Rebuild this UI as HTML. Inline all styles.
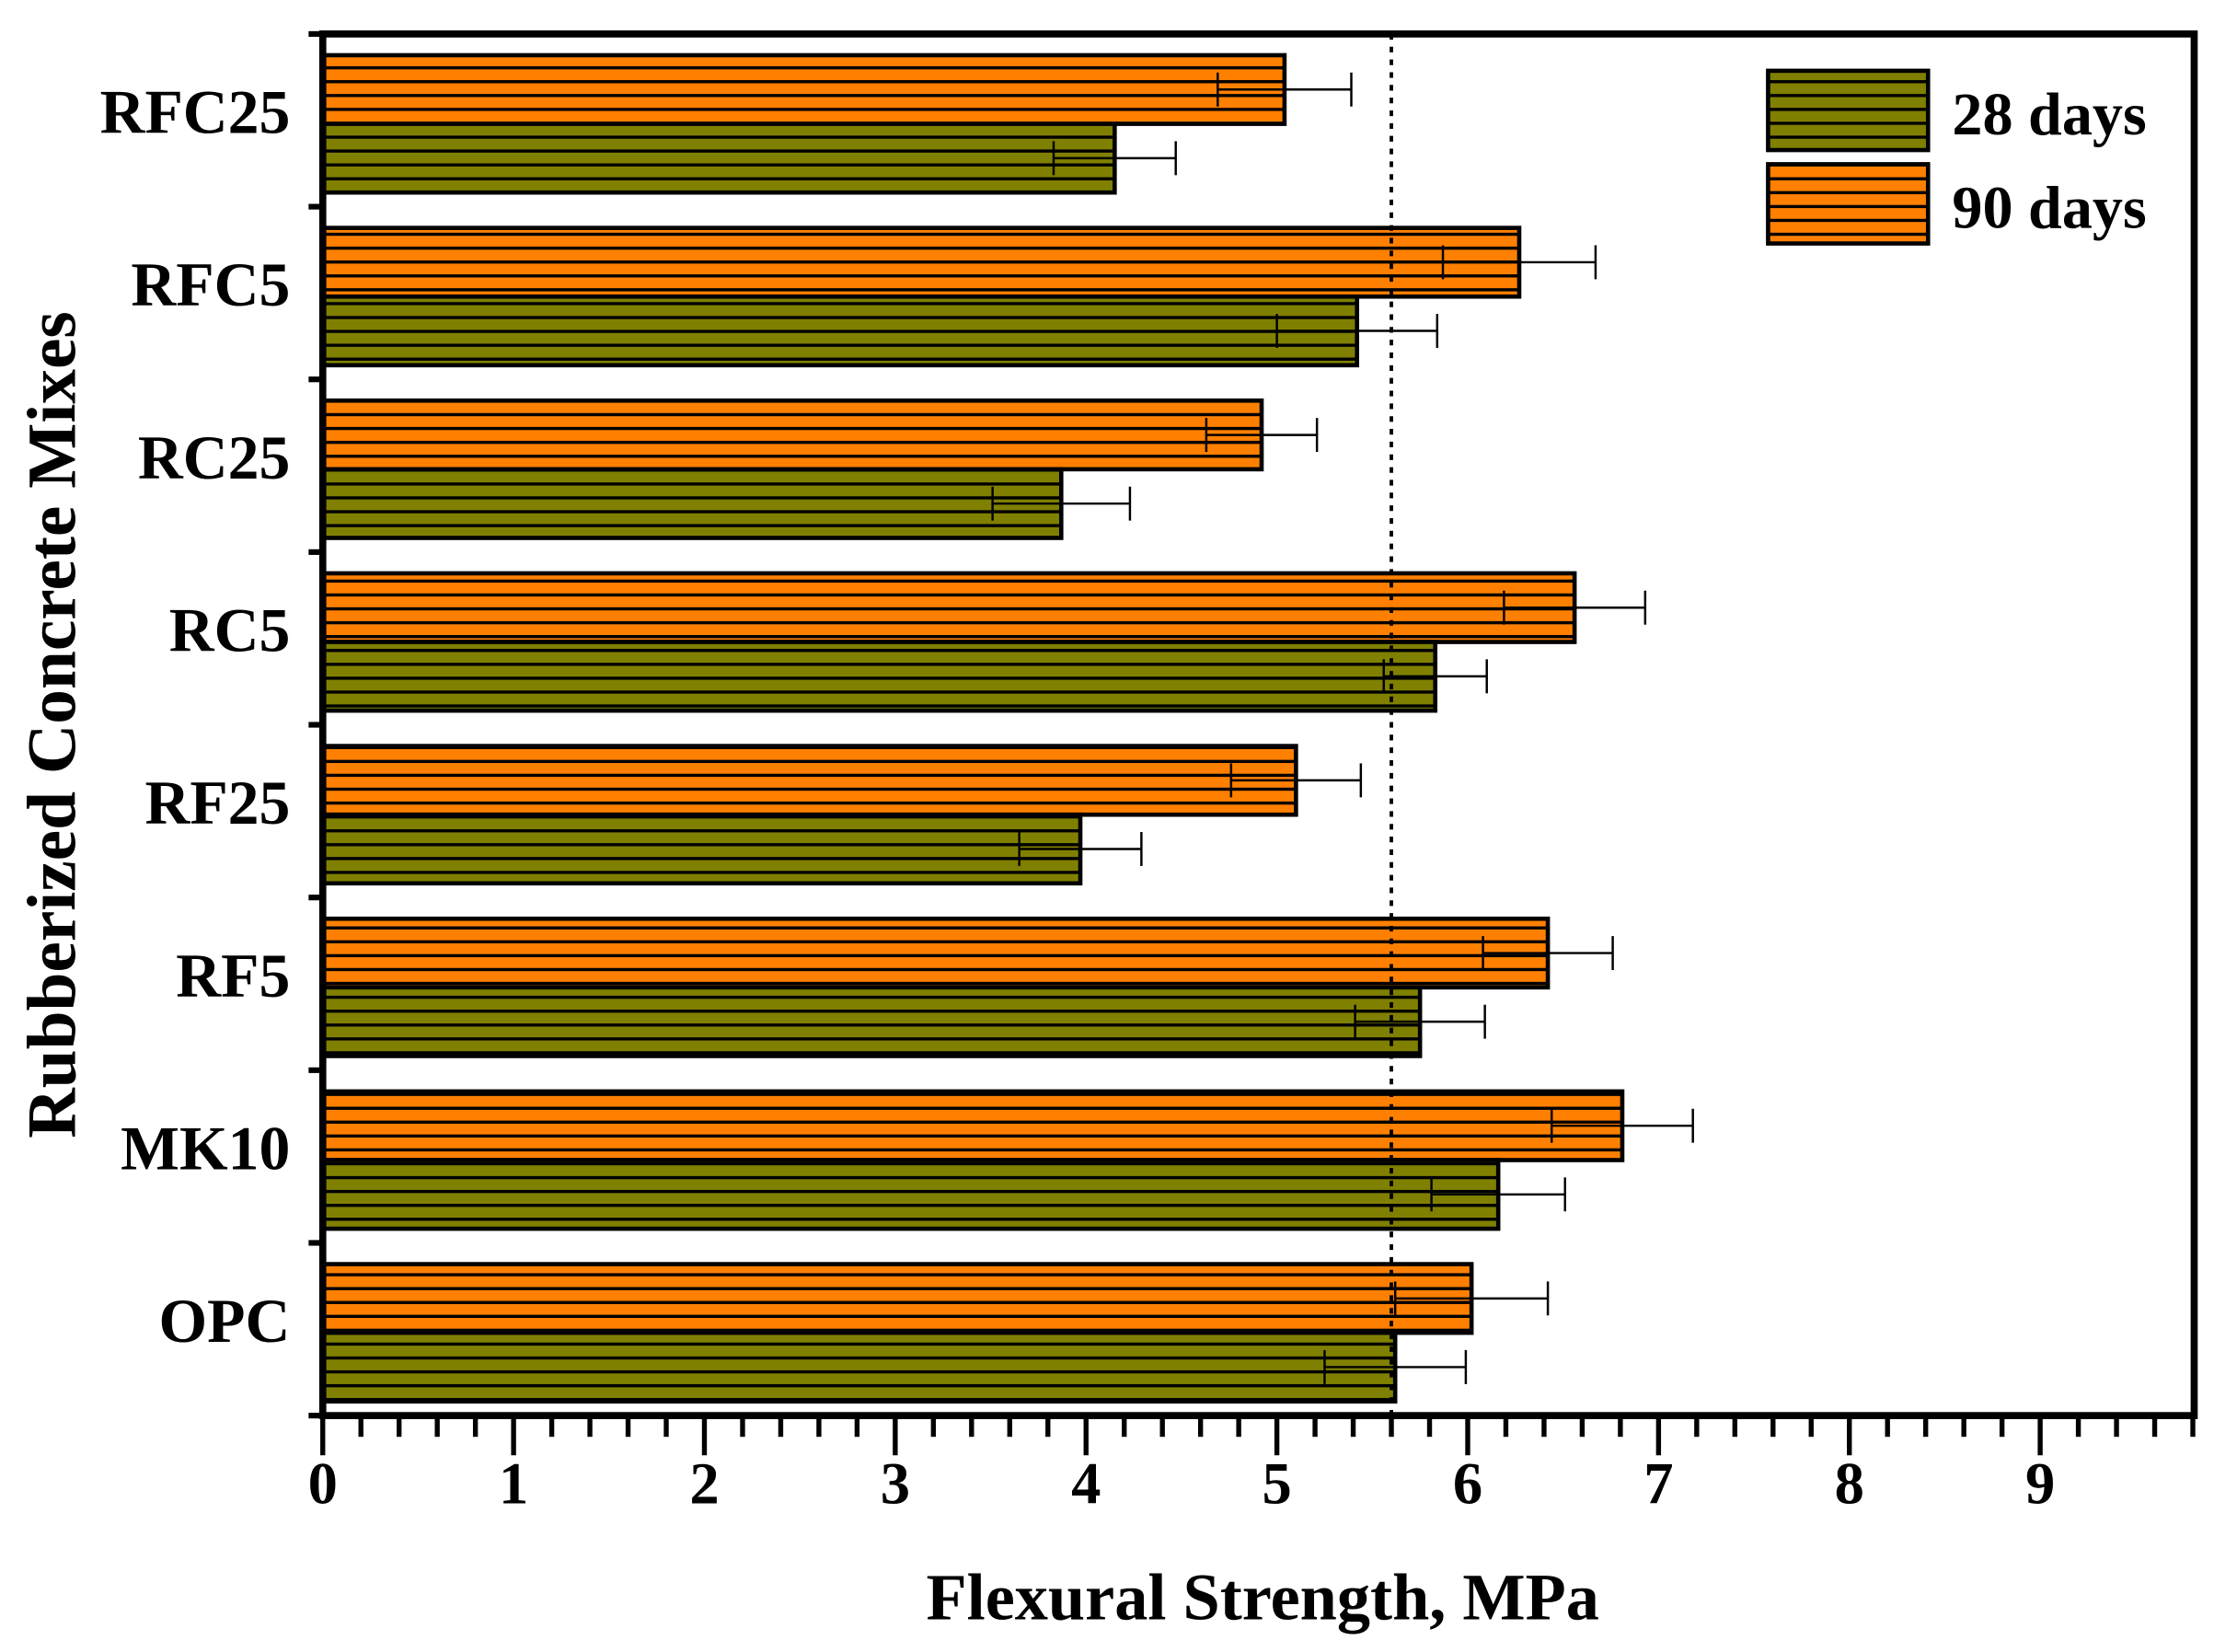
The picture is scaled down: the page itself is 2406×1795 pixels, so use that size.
<!DOCTYPE html>
<html><head><meta charset="utf-8"><style>
html,body{margin:0;padding:0;background:#fff}
svg{display:block}
text{font-family:"Liberation Serif",serif;font-weight:bold;fill:#000}
</style></head><body>
<svg id="chart" xmlns="http://www.w3.org/2000/svg" width="2406" height="1795" viewBox="0 0 1564 1167" preserveAspectRatio="none">
<defs>
<pattern id="stripeG" patternUnits="userSpaceOnUse" width="10" height="9.8"><rect width="10" height="9.8" fill="#808000"/><rect y="7.6" width="10" height="2.2" fill="#000"/></pattern>
<pattern id="stripeO" patternUnits="userSpaceOnUse" width="10" height="9.8"><rect width="10" height="9.8" fill="#ff8000"/><rect y="7.6" width="10" height="2.2" fill="#000"/></pattern>
</defs>
<g id="plot"></g>
<text x="892" y="1144" font-size="47" text-anchor="middle">Flexural Strength, MPa</text>
<text transform="translate(53,512) rotate(-90)" font-size="49" text-anchor="middle">Rubberized Concrete Mixes</text>
<g>
<rect x="1249" y="50" width="113" height="56" fill="url(#stripeG)" stroke="#000" stroke-width="3"/>
<text x="1379" y="95" font-size="43">28 days</text>
<rect x="1249" y="116" width="113" height="56" fill="url(#stripeO)" stroke="#000" stroke-width="3"/>
<text x="1379" y="161" font-size="43">90 days</text>
</g>
</svg>
<script>
const categories = ["OPC","MK10","RF5","RF25","RC5","RC25","RFC5","RFC25"];
const days28 = [5.62,6.16,5.75,3.97,5.83,3.87,5.42,4.15];
const days90 = [6.02,6.81,6.42,5.10,6.56,4.92,6.27,5.04];
const err28 = [0.37,0.35,0.34,0.32,0.27,0.36,0.42,0.32];
const err90 = [0.40,0.37,0.34,0.34,0.37,0.29,0.40,0.35];
const xTicks = [0,1,2,3,4,5,6,7,8,9];
const refLine = 5.6;

const NS="http://www.w3.org/2000/svg";
const L=228,R=1550,T=24,B=1000,XMAX=9.807;
const xs=v=>L+(v/XMAX)*(R-L);
const band=(B-T)/categories.length;
const yb=i=>B-(i+1)*band;
const g=document.getElementById('plot');
function mk(tag,attrs){const e=document.createElementNS(NS,tag);for(const k in attrs)e.setAttribute(k,attrs[k]);g.appendChild(e);return e;}

function errBar(v,e,cy){
  const a=mk('line',{x1:xs(v-e),x2:xs(v+e),y1:cy,y2:cy,stroke:'#000','stroke-width':1.6});
  
  
  [v-e,v+e].forEach(x=>{const c=mk('line',{x1:xs(x),x2:xs(x),y1:cy-12,y2:cy+12,stroke:'#000','stroke-width':1.6});
    
    });
}
categories.forEach((c,i)=>{
  const top=yb(i)+15, h=48.5;
  const o=mk('rect',{x:L,y:top,width:xs(days90[i])-L,height:h,fill:'url(#stripeO)',stroke:'#000','stroke-width':3});
  
  
  const gr=mk('rect',{x:L,y:top+h,width:xs(days28[i])-L,height:h,fill:'url(#stripeG)',stroke:'#000','stroke-width':3});
  
  
  errBar(days90[i],err90[i],top+h/2);
  errBar(days28[i],err28[i],top+h*1.5);
  const t=mk('text',{x:205,y:yb(i)+band/2+9,'font-size':44,'text-anchor':'end'});
  t.textContent=c;
  
  
});
for(let i=0;i<=categories.length;i++){
  const y=B-i*band;
  const tk=mk('line',{x1:L-10,x2:L,y1:y,y2:y,stroke:'#000','stroke-width':4});
  
  
}
const rl=mk('line',{x1:xs(refLine),x2:xs(refLine),y1:T,y2:B,stroke:'#000','stroke-width':2.5,'stroke-dasharray':'4,5'});


for(let k=0;k<=49;k++){
  const v=k*0.2; if(v>XMAX)break;
  const major=k%5===0;
  const tk=mk('line',{x1:xs(v),x2:xs(v),y1:B,y2:B+(major?28:15),stroke:'#000','stroke-width':3.5});
  
  
}
xTicks.forEach(v=>{
  const t=mk('text',{x:xs(v),y:1062,'font-size':42,'text-anchor':'middle'});
  t.textContent=v;
  
  
});
const fr=mk('rect',{x:L,y:T,width:R-L,height:B-T,fill:'none',stroke:'#000','stroke-width':5});


</script>
</body></html>
